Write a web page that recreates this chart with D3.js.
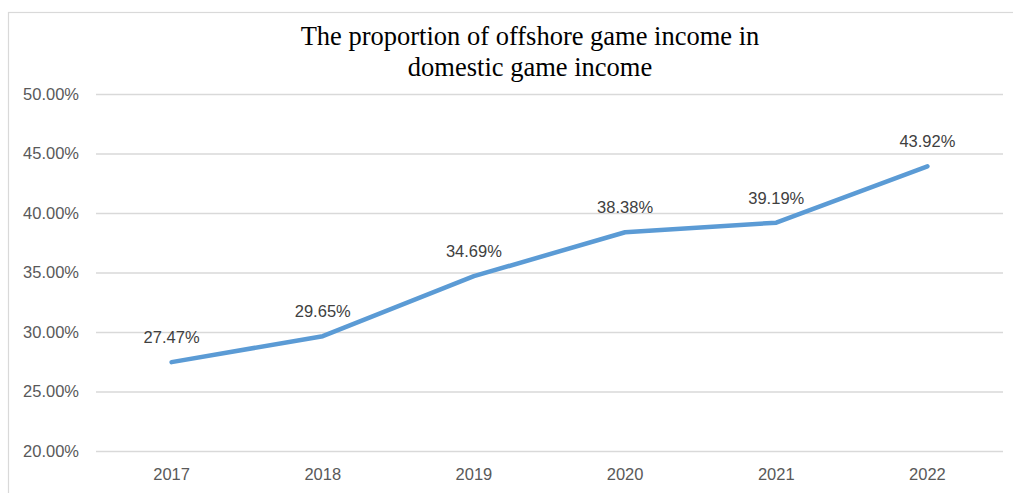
<!DOCTYPE html>
<html>
<head>
<meta charset="utf-8">
<script src="https://cdn.jsdelivr.net/npm/d3@7"></script>
<style>
  html, body { margin: 0; padding: 0; background: #fff; }
  svg { display: block; }
</style>
</head>
<body>
<svg id="chart" width="1013" height="493"></svg>
<script>
// Share of offshore game income within domestic game income, by year
const years = ["2017", "2018", "2019", "2020", "2021", "2022"];
const shares = [27.47, 29.65, 34.69, 38.38, 39.19, 43.92];
const yTicks = [20, 25, 30, 35, 40, 45, 50];
const titleLines = ["The proportion of offshore game income in", "domestic game income"];

const W = 1013, H = 493;
const plot = { left: 96, right: 1003, top: 94, bottom: 451 };

const svg = d3.select("#chart");

// chart frame
svg.append("rect")
  .attr("x", 8.5).attr("y", 12.5)
  .attr("width", W + 10).attr("height", H + 10)
  .attr("fill", "#fff")
  .attr("stroke", "#d9d9d9").attr("stroke-width", 1.2);

const x = d3.scaleBand().domain(years).range([plot.left, plot.right]);
const y = d3.scaleLinear().domain([20, 50]).range([plot.bottom, plot.top]);

// horizontal gridlines + value axis labels
const yAxis = d3.axisLeft(y)
  .tickValues(yTicks)
  .tickSize(-(plot.right - plot.left))
  .tickPadding(17)
  .tickFormat(d => d3.format(".2f")(d) + "%");

const gy = svg.append("g")
  .attr("transform", `translate(${plot.left},0)`)
  .call(yAxis);
gy.select(".domain").remove();
gy.selectAll(".tick line").attr("stroke", "#d9d9d9").attr("stroke-width", 1.5);
gy.selectAll(".tick text")
  .attr("fill", "#595959")
  .attr("font-family", "'Liberation Sans', Arial, sans-serif")
  .attr("font-size", "16.5px");

// category axis labels
const xAxis = d3.axisBottom(x).tickSize(0).tickPadding(17);
const gx = svg.append("g")
  .attr("transform", `translate(0,${plot.bottom})`)
  .call(xAxis);
gx.select(".domain").remove();
gx.selectAll(".tick text")
  .attr("fill", "#595959")
  .attr("font-family", "'Liberation Sans', Arial, sans-serif")
  .attr("font-size", "16.5px");

// series line
const pts = years.map((yr, i) => ({ yr, v: shares[i] }));
const line = d3.line()
  .x(d => x(d.yr) + x.bandwidth() / 2)
  .y(d => y(d.v));

svg.append("path")
  .datum(pts)
  .attr("d", line)
  .attr("fill", "none")
  .attr("stroke", "#5b9bd5")
  .attr("stroke-width", 4.5)
  .attr("stroke-linejoin", "round")
  .attr("stroke-linecap", "round");

// value labels above each point
svg.append("g").selectAll("text")
  .data(pts)
  .join("text")
  .attr("x", d => x(d.yr) + x.bandwidth() / 2)
  .attr("y", d => y(d.v) - 19)
  .attr("text-anchor", "middle")
  .attr("fill", "#404040")
  .attr("font-family", "'Liberation Sans', Arial, sans-serif")
  .attr("font-size", "16.5px")
  .text(d => d3.format(".2f")(d.v) + "%");

// title
svg.append("g").selectAll("text")
  .data(titleLines)
  .join("text")
  .attr("x", 530)
  .attr("y", (d, i) => 45 + i * 31)
  .attr("text-anchor", "middle")
  .attr("fill", "#000")
  .attr("font-family", "'Liberation Serif', 'Times New Roman', serif")
  .attr("font-size", "26.5px")
  .text(d => d);
</script>
</body>
</html>
